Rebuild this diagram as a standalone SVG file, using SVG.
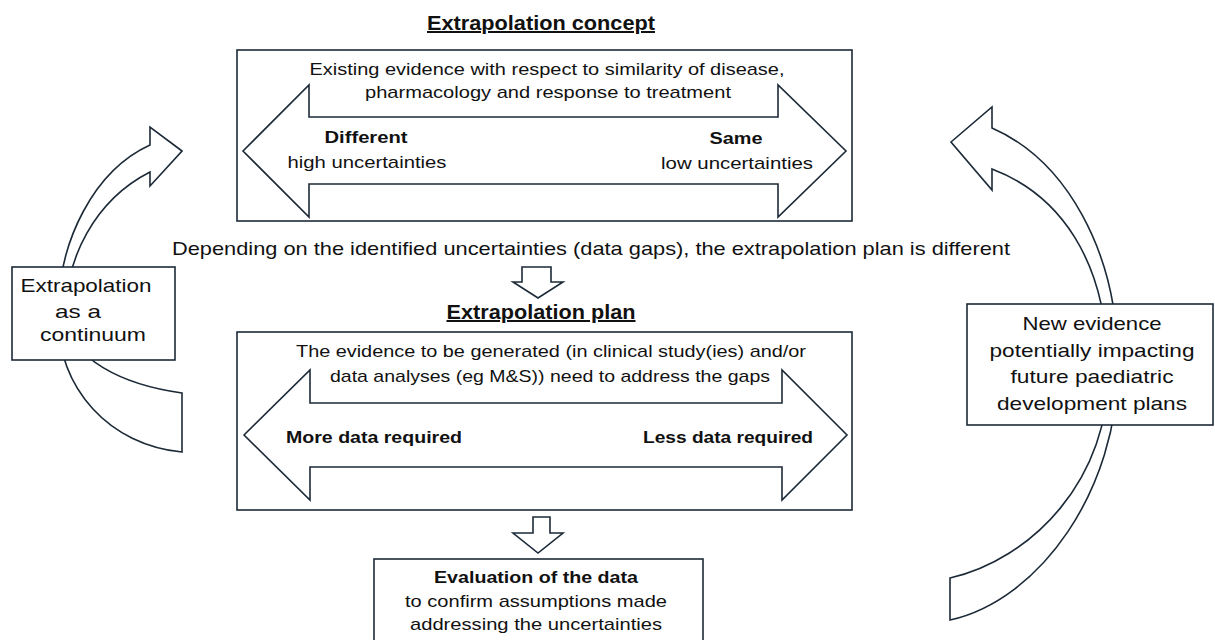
<svg xmlns="http://www.w3.org/2000/svg" width="1215" height="640" viewBox="0 0 1215 640">
<style>
.bx{fill:#fff;stroke:#1c2a38;stroke-width:1.6}
.ar{fill:#fff;stroke:#1c2a38;stroke-width:1.6;stroke-linejoin:miter}
text{font-family:"Liberation Sans",Arial,sans-serif;fill:#111;text-anchor:middle}
.t{font-size:20px;font-weight:bold;text-decoration:underline}
.m{font-size:17px}
.b{font-size:17px;font-weight:bold}
.s{font-size:19px}
</style>
<rect width="1215" height="640" fill="#fff"/>
<g id="connectors">
<path class="ar" d="M182,151 L150,127 L150,145 C95,170 58,240 58,315 C58,390 110,445 182,452 L182,393 C125,385 68,360 67,315 C64,260 95,200 150,172 L150,186 Z"/>
<path class="ar" d="M951,142 L992,107 L992,128 C1065,160 1118,250 1118,365 C1118,490 1040,600 950,620 L950,578 C1030,560 1112,480 1108,365 C1106,260 1060,195 992,169 L992,190 Z"/>
<path class="ar" d="M522,267 L551,267 L551,282 L563,282 L538,298 L513,282 L522,282 Z"/>
<path class="ar" d="M533,517 L550,517 L550,533 L563,533 L538,553 L513,533 L533,533 Z"/>
</g>
<g id="concept">
<text class="t" x="541" y="30" textLength="228" lengthAdjust="spacingAndGlyphs">Extrapolation concept</text>
<rect class="bx" x="237" y="50" width="615" height="171"/>
<path class="ar" d="M243,151 L309,85 L309,117 L778,117 L778,85 L846,151 L778,217 L778,184 L309,184 L309,217 Z"/>
<text class="m" x="547" y="75" textLength="475" lengthAdjust="spacingAndGlyphs">Existing evidence with respect to similarity of disease,</text>
<text class="m" x="548" y="98" textLength="366" lengthAdjust="spacingAndGlyphs">pharmacology and response to treatment</text>
<text class="b" x="366" y="143" textLength="83" lengthAdjust="spacingAndGlyphs">Different</text>
<text class="m" x="367" y="168" textLength="159" lengthAdjust="spacingAndGlyphs">high uncertainties</text>
<text class="b" x="736" y="144" textLength="53" lengthAdjust="spacingAndGlyphs">Same</text>
<text class="m" x="737" y="169" textLength="152" lengthAdjust="spacingAndGlyphs">low uncertainties</text>
</g>
<g id="depending">
<text class="s" x="591" y="255" textLength="838" lengthAdjust="spacingAndGlyphs">Depending on the identified uncertainties (data gaps), the extrapolation plan is different</text>
</g>
<g id="plan">
<text class="t" x="541" y="319" textLength="189" lengthAdjust="spacingAndGlyphs">Extrapolation plan</text>
<rect class="bx" x="237" y="332" width="615" height="178"/>
<path class="ar" d="M244,435 L310,370 L310,403 L782,403 L782,370 L847,435 L782,500 L782,467 L310,467 L310,500 Z"/>
<text class="m" x="551" y="357" textLength="510" lengthAdjust="spacingAndGlyphs">The evidence to be generated (in clinical study(ies) and/or</text>
<text class="m" x="550" y="382" textLength="440" lengthAdjust="spacingAndGlyphs">data analyses (eg M&amp;S)) need to address the gaps</text>
<text class="b" x="374" y="443" textLength="176" lengthAdjust="spacingAndGlyphs">More data required</text>
<text class="b" x="728" y="443" textLength="170" lengthAdjust="spacingAndGlyphs">Less data required</text>
</g>
<g id="evaluation">
<rect class="bx" x="374" y="559" width="329" height="90"/>
<text class="b" x="536" y="583" textLength="204" lengthAdjust="spacingAndGlyphs">Evaluation of the data</text>
<text class="m" x="536" y="607" textLength="262" lengthAdjust="spacingAndGlyphs">to confirm assumptions made</text>
<text class="m" x="536" y="630" textLength="252" lengthAdjust="spacingAndGlyphs">addressing the uncertainties</text>
</g>
<g id="continuum">
<rect class="bx" x="12" y="267" width="163" height="93"/>
<text class="s" x="86" y="292" textLength="131" lengthAdjust="spacingAndGlyphs">Extrapolation</text>
<text class="s" x="78" y="318" textLength="46" lengthAdjust="spacingAndGlyphs">as a</text>
<text class="s" x="93" y="341" textLength="106" lengthAdjust="spacingAndGlyphs">continuum</text>
</g>
<g id="newevidence">
<rect class="bx" x="967" y="304" width="246" height="121"/>
<text class="s" x="1092" y="330" textLength="139" lengthAdjust="spacingAndGlyphs">New evidence</text>
<text class="s" x="1092" y="357" textLength="205" lengthAdjust="spacingAndGlyphs">potentially impacting</text>
<text class="s" x="1092" y="383" textLength="163" lengthAdjust="spacingAndGlyphs">future paediatric</text>
<text class="s" x="1092" y="410" textLength="190" lengthAdjust="spacingAndGlyphs">development plans</text>
</g>
</svg>
